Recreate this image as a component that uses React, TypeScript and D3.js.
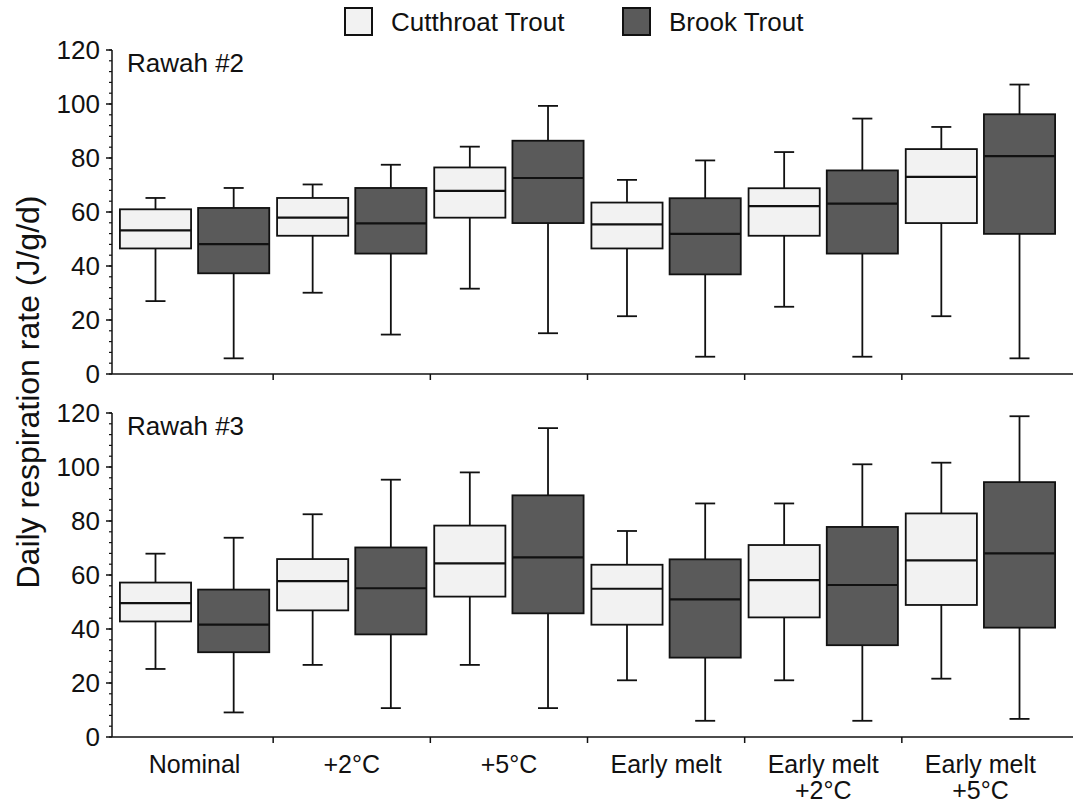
import React from "react";
import * as d3 from "d3";

// [low whisker, Q1, median, Q3, high whisker] per scenario
const categories = ["Nominal", "+2°C", "+5°C", "Early melt", "Early melt +2°C", "Early melt +5°C"];
const categoryLines = [["Nominal"], ["+2°C"], ["+5°C"], ["Early melt"], ["Early melt", "+2°C"], ["Early melt", "+5°C"]];
const series = ["Cutthroat Trout", "Brook Trout"];
const seriesFill = ["#f2f2f2", "#5a5a5a"];

const rawah2Cutthroat = [
  [27.0, 46.5, 53.2, 61.0, 65.2],
  [30.1, 51.2, 57.9, 65.2, 70.2],
  [31.6, 57.9, 67.8, 76.5, 84.2],
  [21.4, 46.5, 55.4, 63.5, 71.9],
  [24.9, 51.2, 62.2, 68.8, 82.2],
  [21.4, 55.9, 73.0, 83.3, 91.5],
];
const rawah2Brook = [
  [5.8, 37.3, 48.1, 61.5, 68.9],
  [14.6, 44.6, 55.8, 68.9, 77.5],
  [15.1, 55.9, 72.6, 86.4, 99.3],
  [6.4, 36.9, 51.9, 65.1, 79.1],
  [6.4, 44.6, 63.1, 75.4, 94.6],
  [5.8, 51.9, 80.7, 96.2, 107.2],
];
const rawah3Cutthroat = [
  [25.2, 42.8, 49.6, 57.2, 67.9],
  [26.7, 46.9, 57.7, 65.9, 82.5],
  [26.7, 52.0, 64.3, 78.3, 98.0],
  [21.0, 41.6, 54.9, 63.8, 76.3],
  [21.0, 44.3, 58.1, 71.1, 86.5],
  [21.6, 48.9, 65.4, 82.8, 101.6],
];
const rawah3Brook = [
  [9.1, 31.4, 41.6, 54.6, 73.8],
  [10.7, 38.0, 55.1, 70.2, 95.3],
  [10.7, 45.8, 66.5, 89.5, 114.4],
  [6.0, 29.4, 51.0, 65.8, 86.5],
  [6.0, 34.0, 56.3, 77.8, 101.0],
  [6.7, 40.5, 68.0, 94.4, 118.8],
];

const panels = [
  { name: "Rawah #2", data: [rawah2Cutthroat, rawah2Brook], top: 50, bottom: 374 },
  { name: "Rawah #3", data: [rawah3Cutthroat, rawah3Brook], top: 413, bottom: 737 },
];

const font = "'Liberation Sans', Arial, sans-serif";
const axisLeft = 112;
const axisRight = 1073;

export default function App() {
  const x = d3.scaleBand().domain(categories).range([116, 1059]);
  const xs = d3.scaleBand().domain(series).range([0, x.bandwidth()]).paddingInner(0.09).paddingOuter(0.05);
  const capW = 20;

  return (
    <svg width={1078} height={809} style={{ position: "absolute", left: 0, top: 0 }} fontFamily={font}>
      <rect width={1078} height={809} fill="#fff" />

      {/* legend */}
      {series.map((s, i) => {
        const lx = [345, 623][i];
        return (
          <g key={s}>
            <rect x={lx} y={8} width={27} height={27} fill={seriesFill[i]} stroke="#111" strokeWidth={2} />
            <text x={lx + 46} y={31} fontSize={26} fill="#111">{s}</text>
          </g>
        );
      })}

      {panels.map((p, pi) => {
        const y = d3.scaleLinear().domain([0, 120]).range([p.bottom, p.top]);
        const minor = d3.range(0, 121, 4);
        const major = d3.range(0, 121, 20);
        return (
          <g key={p.name}>
            {/* boxes */}
            {p.data.map((rows, si) =>
              rows.map((d, ci) => {
                const bx = x(categories[ci])! + xs(series[si])!;
                const cx = bx + xs.bandwidth() / 2;
                const [lo, q1, med, q3, hi] = d;
                return (
                  <g key={si + "-" + ci} stroke="#111" strokeWidth={1.8}>
                    <line x1={cx} x2={cx} y1={y(hi)} y2={y(q3)} />
                    <line x1={cx} x2={cx} y1={y(q1)} y2={y(lo)} />
                    <line x1={cx - capW / 2} x2={cx + capW / 2} y1={y(hi)} y2={y(hi)} />
                    <line x1={cx - capW / 2} x2={cx + capW / 2} y1={y(lo)} y2={y(lo)} />
                    <rect x={bx} y={y(q3)} width={xs.bandwidth()} height={y(q1) - y(q3)} fill={seriesFill[si]} />
                    <line x1={bx} x2={bx + xs.bandwidth()} y1={y(med)} y2={y(med)} strokeWidth={2.2} />
                  </g>
                );
              })
            )}

            {/* y axis */}
            <line x1={axisLeft} x2={axisLeft} y1={y(120)} y2={y(0)} stroke="#111" strokeWidth={1.5} />
            {minor.map((v) => (
              <line key={"m" + v} x1={axisLeft - 3} x2={axisLeft} y1={y(v)} y2={y(v)} stroke="#111" strokeWidth={1.2} />
            ))}
            {major.map((v) => (
              <g key={"M" + v}>
                <line x1={axisLeft - 6} x2={axisLeft} y1={y(v)} y2={y(v)} stroke="#111" strokeWidth={1.5} />
                <text x={axisLeft - 12} y={y(v)} dy="0.36em" textAnchor="end" fontSize={26} fill="#111">{v}</text>
              </g>
            ))}

            {/* x axis */}
            <line x1={axisLeft} x2={axisRight} y1={p.bottom} y2={p.bottom} stroke="#111" strokeWidth={1.5} />
            {categories.slice(1).map((c) => (
              <line key={c} x1={x(c)!} x2={x(c)!} y1={p.bottom} y2={p.bottom + 6} stroke="#111" strokeWidth={1.5} />
            ))}

            <text x={127} y={p.top + 22} fontSize={26} fill="#111">{p.name}</text>

            {pi === panels.length - 1 &&
              categories.map((c, ci) => (
                <text key={c} textAnchor="middle" fontSize={25} fill="#111">
                  {categoryLines[ci].map((line, li) => (
                    <tspan key={li} x={x(c)! + x.bandwidth() / 2} y={773 + li * 26}>{line}</tspan>
                  ))}
                </text>
              ))}
          </g>
        );
      })}

      <text transform="translate(39,392) rotate(-90)" textAnchor="middle" fontSize={32} fill="#111">
        Daily respiration rate (J/g/d)
      </text>
    </svg>
  );
}
